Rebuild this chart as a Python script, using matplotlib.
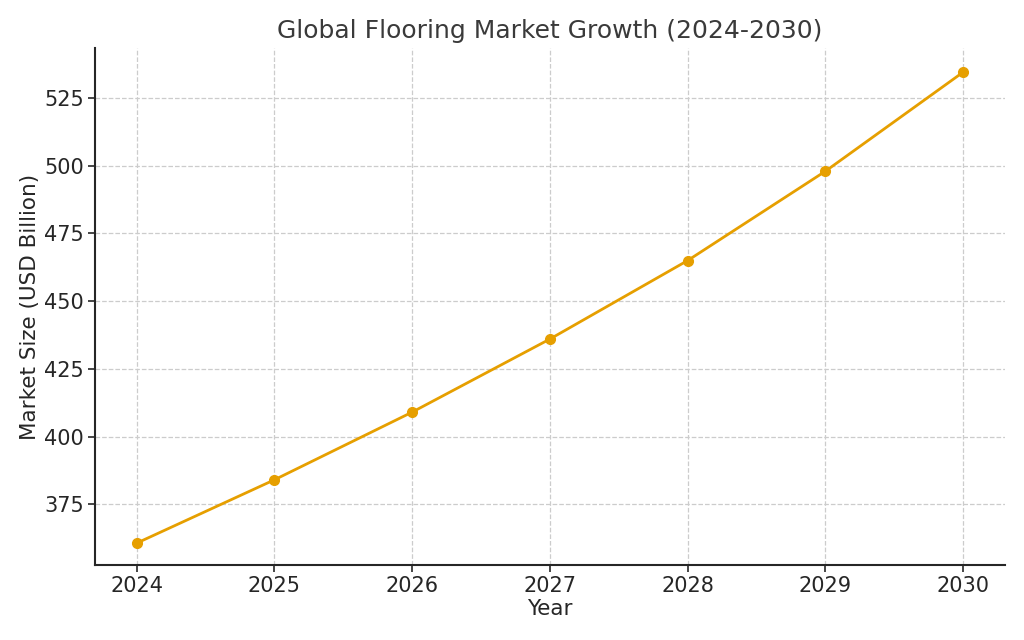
import matplotlib.pyplot as plt

plt.rcParams['font.family'] = ['DejaVu Sans']

years = [2024, 2025, 2026, 2027, 2028, 2029, 2030]
market_size = [360.6, 384.0, 409.0, 436.0, 465.0, 498.0, 534.6]
yticks = [375, 400, 425, 450, 475, 500, 525]

fig = plt.figure(figsize=(10.24, 6.4), dpi=100)
ax = fig.add_axes([0.093, 0.117, 0.888, 0.808])

ax.plot(years, market_size, color="#E69F00", marker="o", markersize=7, linewidth=2)

ax.set_title("Global Flooring Market Growth (2024-2030)", fontsize=18, color="#3a3a3a", pad=7)
ax.set_xlabel("Year", fontsize=15.5, color="#262626", labelpad=2)
ax.set_ylabel("Market Size (USD Billion)", fontsize=15.5, color="#262626", labelpad=3)
ax.set_xticks(years)
ax.set_yticks(yticks)
ax.tick_params(labelsize=15, colors="#262626", length=5, width=1.2, pad=3)
ax.set_xlim(2023.7, 2030.3)
ax.set_ylim(352.5, 543.5)

ax.grid(True, linestyle="--", color="#cccccc", linewidth=0.9)
for side in ["top", "right"]:
    ax.spines[side].set_visible(False)
for side in ["left", "bottom"]:
    ax.spines[side].set_linewidth(1.5)
    ax.spines[side].set_color("#262626")

fig.savefig("out.png", dpi=100)
